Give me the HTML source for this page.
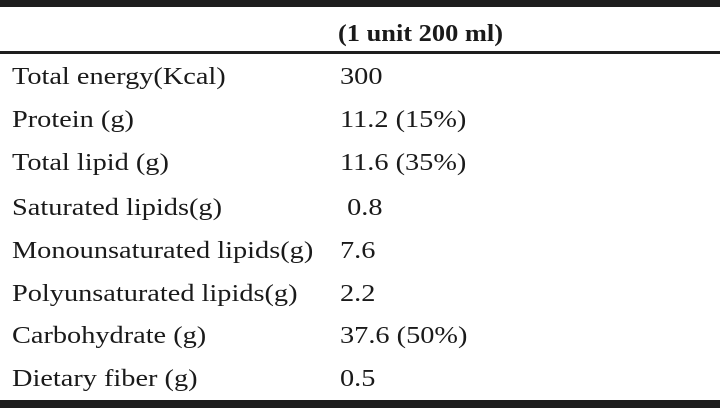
<!DOCTYPE html>
<html><head><meta charset="utf-8"><style>
body{margin:0;background:#fff;}
#t{position:relative;width:720px;height:408px;overflow:hidden;font-family:"Liberation Serif",serif;font-size:24px;color:#1a1a1a;}
.bar{position:absolute;left:0;width:720px;background:#1e1e1e;}
.c{position:absolute;line-height:24px;white-space:nowrap;transform:translateY(-50%) scaleX(1.18);transform-origin:left center;}
.l{left:12px}.v{left:340px}
.h{font-weight:bold;left:338px;transform:translateY(-50%) scaleX(1.1)}
</style></head><body>
<div id="t">
<div class="bar" style="top:0;height:7px"></div>
<div class="bar" style="top:51px;height:3px"></div>
<div class="bar" style="top:400px;height:8px"></div>
<div class="c h" style="top:34px">(1 unit 200 ml)</div>
<div class="c l" style="top:77px">Total energy(Kcal)</div>
<div class="c v" style="top:77px">300</div>
<div class="c l" style="top:120px">Protein (g)</div>
<div class="c v" style="top:120px">11.2 (15%)</div>
<div class="c l" style="top:163px">Total lipid (g)</div>
<div class="c v" style="top:163px">11.6 (35%)</div>
<div class="c l" style="top:208px">Saturated lipids(g)</div>
<div class="c v" style="top:208px">&nbsp;0.8</div>
<div class="c l" style="top:251px">Monounsaturated lipids(g)</div>
<div class="c v" style="top:251px">7.6</div>
<div class="c l" style="top:294px">Polyunsaturated lipids(g)</div>
<div class="c v" style="top:294px">2.2</div>
<div class="c l" style="top:336px">Carbohydrate (g)</div>
<div class="c v" style="top:336px">37.6 (50%)</div>
<div class="c l" style="top:379px">Dietary fiber (g)</div>
<div class="c v" style="top:379px">0.5</div>
</div>
</body></html>
